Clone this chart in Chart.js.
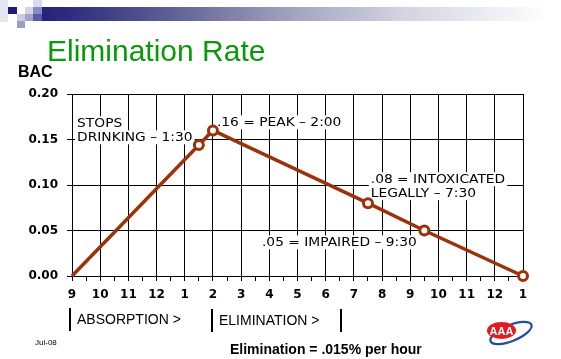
<!DOCTYPE html>
<html>
<head>
<meta charset="utf-8">
<script src="https://cdn.jsdelivr.net/npm/chart.js@4"></script>
<style>
  html, body { margin: 0; padding: 0; background: #fff; }
  body { width: 561px; height: 359px; position: relative; overflow: hidden; font-family: "Liberation Sans", Arial, sans-serif; }
  #chart { position: absolute; left: 0; top: 0; }
  .abs { position: absolute; line-height: 1; white-space: nowrap; }
  .sq { position: absolute; }
</style>
</head>
<body>
<!-- header decoration -->
<div class="sq" style="left:0;top:0;width:8px;height:22px;background:#e6e6f2;"></div>
<div class="sq" style="left:8px;top:7px;width:9px;height:7px;background:#1c1c80;"></div>
<div class="sq" style="left:17px;top:14px;width:8px;height:7px;background:#cacae2;"></div>
<div class="sq" style="left:17px;top:21px;width:8px;height:7px;background:#9c9cca;"></div>
<div class="sq" style="left:25px;top:7px;width:8px;height:7px;background:#d2d2e8;"></div>
<div class="sq" style="left:25px;top:14px;width:8px;height:7px;background:#a2a2d0;"></div>
<div class="sq" style="left:33px;top:0;width:9px;height:7px;background:#dadaee;"></div>
<div class="sq" style="left:33px;top:7px;width:9px;height:7px;background:#8a8ac2;"></div>
<div class="sq" style="left:33px;top:14px;width:9px;height:7px;background:#5a5aa0;"></div>
<div class="sq" style="left:42px;top:7px;width:505px;height:14px;background:linear-gradient(to right,#22227a 0%,#3c3c86 12%,#6c6c9c 30%,#a4a4c0 50%,#d4d4e2 72%,#f2f2f6 92%,#ffffff 100%);"></div>

<canvas id="chart" width="561" height="359"></canvas>

<div class="abs" style="left:47px;top:36px;font-size:30px;color:#0a990a;">Elimination Rate</div>
<div class="abs" style="left:18px;top:64px;font-size:16px;font-weight:bold;color:#000;">BAC</div>

<div class="sq" style="left:69px;top:308px;width:2px;height:23px;background:#000;"></div>
<div class="abs" style="left:77px;top:312px;font-size:14px;color:#000;">ABSORPTION &gt;</div>
<div class="sq" style="left:211px;top:309px;width:2px;height:23px;background:#000;"></div>
<div class="abs" style="left:219px;top:313px;font-size:14px;color:#000;">ELIMINATION &gt;</div>
<div class="sq" style="left:340px;top:309px;width:2px;height:23px;background:#000;"></div>

<div class="abs" style="left:35px;top:339px;font-size:8px;color:#000;">Jul-08</div>
<div class="abs" style="left:230px;top:342px;font-size:14px;font-weight:bold;color:#000;">Elimination = .015% per hour</div>

<svg class="abs" style="left:480px;top:310px;" width="60" height="45" viewBox="480 310 60 45">
  <ellipse cx="511" cy="333" rx="22" ry="8" transform="rotate(-22 511 333)" fill="none" stroke="#1f4e9e" stroke-width="2.2"/>
  <ellipse cx="501.5" cy="330.5" rx="14.5" ry="8.5" fill="#e01b22"/>
  <text x="501.5" y="334.5" text-anchor="middle" font-family="Liberation Sans, Arial, sans-serif" font-size="11" font-weight="bold" fill="#fff">AAA</text>
</svg>

<script>
// ---- data ----
const hourLabels = ["9","10","11","12","1","2","3","4","5","6","7","8","9","10","11","12","1"];
const timeOfDay = ["9:00","1:30","2:00","7:30","9:30","1:00"];
const hoursAfterStart = [0, 4.5, 5, 10.5, 12.5, 16];
const bacValues = [0, 0.144, 0.16, 0.08, 0.05, 0];
const markerShown = [false, true, true, true, true, true];
const noteTexts = [
  ["STOPS", "DRINKING \u2013 1:30"],
  [".16 = PEAK \u2013 2:00"],
  [".08 = INTOXICATED", "LEGALLY \u2013 7:30"],
  [".05 = IMPAIRED \u2013 9:30"]
];
const noteHours = [0.18, 5.14, 10.6, 6.74];
const noteBac = [0.1634, 0.1645, 0.102, 0.0326];

const lineColor = '#9c320a';

const notesPlugin = {
  id: 'notes',
  beforeDatasetsDraw(chart) {
    const ctx = chart.ctx;
    const xs = chart.scales.x, ys = chart.scales.y;
    const stretch = 1.15, lh = 14;
    ctx.save();
    ctx.font = '12px "DejaVu Sans", sans-serif';
    ctx.textBaseline = 'alphabetic';
    noteTexts.forEach((lines, i) => {
      const px = xs.getPixelForValue(noteHours[i]);
      const py = ys.getPixelForValue(noteBac[i]);
      lines.forEach((t, j) => {
        const w = ctx.measureText(t).width * stretch;
        const by = py + j * lh;
        ctx.fillStyle = '#fff';
        ctx.fillRect(px - 2, by - 11, w + 4, 14);
      });
      lines.forEach((t, j) => {
        const by = py + j * lh;
        ctx.save();
        ctx.translate(px, by);
        ctx.scale(stretch, 1);
        ctx.fillStyle = '#000';
        ctx.fillText(t, 0, 0);
        ctx.restore();
      });
    });
    ctx.restore();
  }
};

new Chart(document.getElementById('chart'), {
  type: 'line',
  data: {
    labels: timeOfDay,
    datasets: [{
      data: hoursAfterStart.map((h, i) => ({ x: h, y: bacValues[i] })),
      borderColor: lineColor,
      borderWidth: 3.5,
      pointRadius: markerShown.map(m => m ? 4.5 : 0),
      pointBackgroundColor: '#fff',
      pointBorderColor: lineColor,
      pointBorderWidth: 3,
      tension: 0,
      clip: false
    }]
  },
  options: {
    responsive: false,
    animation: false,
    devicePixelRatio: 1,
    layout: { padding: { top: 94, right: 38, left: 0, bottom: 0 } },
    plugins: { legend: { display: false }, tooltip: { enabled: false } },
    scales: {
      x: {
        type: 'linear',
        min: 0, max: 16,
        afterFit(s) { s.height = 83; },
        ticks: {
          stepSize: 0.5,
          autoSkip: false,
          maxRotation: 0,
          padding: 7,
          color: '#000',
          font: { family: '"DejaVu Sans", sans-serif', size: 12, weight: 'bold' },
          callback: v => Number.isInteger(v) ? hourLabels[v] : ''
        },
        grid: {
          color: c => (c.tick && Number.isInteger(c.tick.value)) ? '#000' : 'rgba(0,0,0,0)',
          tickColor: '#000',
          tickLength: 5,
          lineWidth: 1
        },
        border: { display: true, color: '#000', width: 1 }
      },
      y: {
        min: 0, max: 0.2,
        afterFit(s) { s.width = 72; },
        ticks: {
          stepSize: 0.05,
          padding: 9,
          color: '#000',
          font: { family: '"DejaVu Sans", sans-serif', size: 12, weight: 'bold' },
          callback: v => v.toFixed(2)
        },
        grid: { color: '#000', tickColor: '#000', tickLength: 5, lineWidth: 1 },
        border: { display: true, color: '#000', width: 1 }
      }
    }
  },
  plugins: [notesPlugin]
});
</script>
</body>
</html>
